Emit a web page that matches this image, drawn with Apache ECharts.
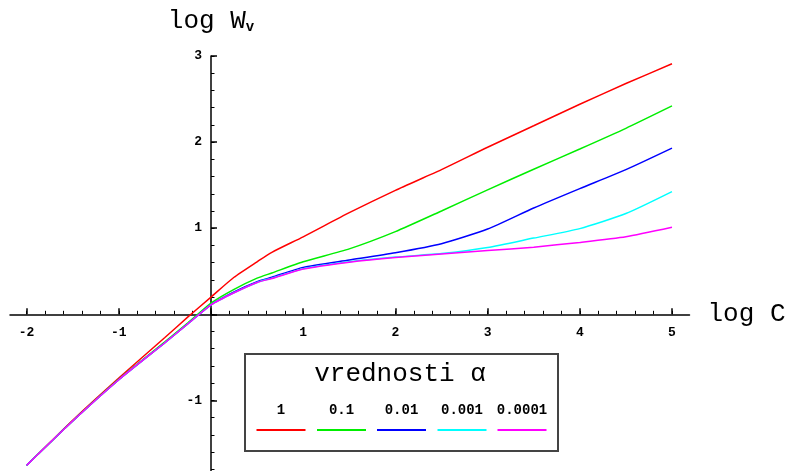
<!DOCTYPE html>
<html>
<head>
<meta charset="utf-8">
<script src="https://cdn.jsdelivr.net/npm/echarts@6/dist/echarts.min.js"></script>
<style>html,body{margin:0;padding:0;background:#fff}#c{width:789px;height:471px}</style>
</head>
<body>
<div id="c"></div>
<script>
// ---- data ----
const logC = [-2, -1.5, -1, -0.5, -0.25, 0, 0.25, 0.5, 0.66, 1, 1.5, 2, 2.5, 3, 3.5, 4, 4.5, 5];
const alphaLabels = ['1', '0.1', '0.01', '0.001', '0.0001'];
const wAlpha1     = [-1.755, -1.23, -0.74, -0.27, -0.03, 0.20, 0.43, 0.61, 0.72, 0.90, 1.18, 1.44, 1.68, 1.94, 2.19, 2.44, 2.68, 2.91];
const wAlpha01    = [-1.755, -1.24, -0.755, -0.32, -0.10, 0.13, 0.29, 0.42, 0.48, 0.61, 0.76, 0.96, 1.20, 1.445, 1.685, 1.92, 2.16, 2.42];
const wAlpha001   = [-1.755, -1.24, -0.76, -0.33, -0.11, 0.11, 0.26, 0.38, 0.43, 0.545, 0.63, 0.715, 0.82, 0.99, 1.235, 1.46, 1.68, 1.93];
const wAlpha0001  = [-1.755, -1.24, -0.76, -0.33, -0.11, 0.11, 0.25, 0.37, 0.42, 0.53, 0.61, 0.665, 0.705, 0.775, 0.885, 0.995, 1.17, 1.425];
const wAlpha00001 = [-1.755, -1.24, -0.76, -0.33, -0.11, 0.11, 0.25, 0.37, 0.415, 0.525, 0.605, 0.66, 0.70, 0.74, 0.78, 0.835, 0.90, 1.01];
const xMajorTicks = [-2, -1, 0, 1, 2, 3, 4, 5];
const xTickLabels = [-2, -1, 1, 2, 3, 4, 5];
const yMajorTicks = [-1, 0, 1, 2, 3];
const yTickLabels = [-1, 1, 2, 3];
const xMinorTicks = [];
for (let i = -10; i <= 25; i++) xMinorTicks.push(+(i * 0.2).toFixed(1));
const yMinorTicks = [];
for (let i = -9; i <= 15; i++) yMinorTicks.push(+(i * 0.2).toFixed(1));

const colors = ['#ff0000', '#00ee00', '#0000ff', '#00ffff', '#ff00ff'];
const seriesY = [wAlpha1, wAlpha01, wAlpha001, wAlpha0001, wAlpha00001];
const FONT = '"Liberation Mono", "DejaVu Sans Mono", monospace';

const chart = echarts.init(document.getElementById('c'), null, {renderer: 'canvas'});

const gridLeft = 10, gridTop = 56, gridW = 679.5, gridH = 415;
const xMin = -2.18, xMax = 5.19, yMin = -1.82, yMax = 3.0;
// offsets that bring each axis onto the zero of the other axis
const xAxisOffset = -gridH * (0 - yMin) / (yMax - yMin);
const yAxisOffset = -gridW * (0 - xMin) / (xMax - xMin);

const axisLineStyle = {color: '#000', width: 1.5};

const series = seriesY.map((ys, k) => ({
  name: alphaLabels[k],
  type: 'line',
  xAxisIndex: 0, yAxisIndex: 0,
  data: logC.map((x, i) => [x, ys[i]]),
  showSymbol: false,
  smooth: 0.2,
  lineStyle: {color: colors[k], width: 1.5},
  itemStyle: {color: colors[k]},
  z: 3 + k,
  silent: true,
  animation: false
}));

// legend box drawn as graphic
const legendX = 245, legendY = 354, legendW = 313, legendH = 97;
const itemCenters = [281, 341.5, 401.5, 462, 522];
const legendGraphics = [
  {type: 'rect', shape: {x: legendX, y: legendY, width: legendW, height: legendH},
   style: {fill: '#fff', stroke: '#444', lineWidth: 2}, z: 100},
  {type: 'text', x: 400, y: 374, z: 101,
   style: {text: 'vrednosti α', font: '26px ' + FONT, fill: '#000', textAlign: 'center', textVerticalAlign: 'middle'}}
];
alphaLabels.forEach((lab, k) => {
  legendGraphics.push({type: 'text', x: itemCenters[k], y: 410, z: 101,
    style: {text: lab, font: 'bold 14px ' + FONT, fill: '#000', textAlign: 'center', textVerticalAlign: 'middle'}});
  legendGraphics.push({type: 'line', z: 101,
    shape: {x1: itemCenters[k] - 24.5, y1: 430, x2: itemCenters[k] + 24.5, y2: 430},
    style: {stroke: colors[k], lineWidth: 2}});
});

const option = {
  backgroundColor: '#fff',
  animation: false,
  grid: {left: gridLeft, top: gridTop, width: gridW, height: gridH, containLabel: false, outerBoundsMode: 'none'},
  xAxis: [
    {type: 'value', position: 'bottom', offset: xAxisOffset, min: xMin, max: xMax,
     axisLine: {show: true, onZero: false, lineStyle: axisLineStyle},
     axisTick: {show: true, inside: true, length: 6, customValues: xMajorTicks, lineStyle: {color: '#000', width: 1.5}},
     axisLabel: {show: true, customValues: xTickLabels, margin: 12,
       fontFamily: FONT, fontSize: 13, fontWeight: 'bold', color: '#000'},
     splitLine: {show: false},
     name: 'log C', nameLocation: 'end', nameGap: 18,
     nameTextStyle: {fontFamily: FONT, fontSize: 26, color: '#000', verticalAlign: 'middle'}},
    {type: 'value', position: 'bottom', offset: xAxisOffset, min: xMin, max: xMax,
     axisLine: {show: false, onZero: false},
     axisTick: {show: true, inside: true, length: 3.5, customValues: xMinorTicks, lineStyle: {color: '#000', width: 1}},
     axisLabel: {show: false}, splitLine: {show: false}}
  ],
  yAxis: [
    {type: 'value', position: 'left', offset: yAxisOffset, min: yMin, max: yMax,
     axisLine: {show: true, onZero: false, lineStyle: axisLineStyle},
     axisTick: {show: true, inside: true, length: 6, customValues: yMajorTicks, lineStyle: {color: '#000', width: 1.5}},
     axisLabel: {show: true, customValues: yTickLabels, margin: 9,
       fontFamily: FONT, fontSize: 13, fontWeight: 'bold', color: '#000'},
     splitLine: {show: false},
     name: 'log W{s|v}', nameLocation: 'end', nameGap: 22,
     nameTextStyle: {fontFamily: FONT, fontSize: 26, color: '#000', align: 'center',
       rich: {s: {fontFamily: FONT, fontSize: 14, fontWeight: 'bold', color: '#000', verticalAlign: 'bottom', padding: [8, 0, 0, 0]}}}},
    {type: 'value', position: 'left', offset: yAxisOffset, min: yMin, max: yMax,
     axisLine: {show: false, onZero: false},
     axisTick: {show: true, inside: true, length: 3.5, customValues: yMinorTicks, lineStyle: {color: '#000', width: 1}},
     axisLabel: {show: false}, splitLine: {show: false}}
  ],
  series: series,
  graphic: legendGraphics
};
chart.setOption(option);
</script>
</body>
</html>
